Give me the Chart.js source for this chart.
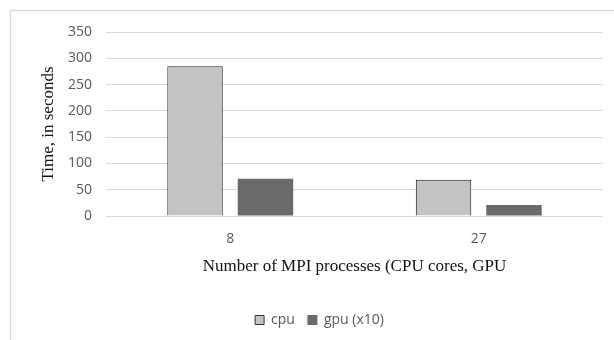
<!DOCTYPE html>
<html>
<head>
<meta charset="utf-8">
<script src="https://cdn.jsdelivr.net/npm/chart.js@4/dist/chart.umd.min.js"></script>
<style>
  html, body { margin: 0; padding: 0; background: #fff; }
  #wrap { width: 614px; height: 340px; position: relative; }
</style>
</head>
<body>
<div id="wrap"><canvas id="c" width="614" height="340"></canvas></div>
<script>
// Run times per MPI process count
const categories = ['8', '27'];
const cpuTimes = [285, 69];
const gpuTimesX10 = [71, 21];
const yTicks = [0, 50, 100, 150, 200, 250, 300, 350];

// Light frame along the top and left edge of the chart
const framePlugin = {
  id: 'frame',
  beforeDraw(chart) {
    const ctx = chart.ctx;
    ctx.save();
    ctx.strokeStyle = '#d9d9d9';
    ctx.lineWidth = 1.5;
    ctx.beginPath();
    ctx.moveTo(10.5, 340);
    ctx.lineTo(10.5, 10.5);
    ctx.lineTo(614, 10.5);
    ctx.stroke();
    ctx.restore();
  }
};

new Chart(document.getElementById('c'), {
  type: 'bar',
  data: {
    labels: categories,
    datasets: [
      {
        label: 'cpu',
        data: cpuTimes,
        backgroundColor: '#c3c3c3',
        borderColor: '#1a1a1a',
        borderWidth: 1,
        categoryPercentage: 0.567,
        barPercentage: 0.787
      },
      {
        label: 'gpu (x10)',
        data: gpuTimesX10,
        backgroundColor: '#6a6a6a',
        borderColor: '#6a6a6a',
        borderWidth: 0,
        categoryPercentage: 0.567,
        barPercentage: 0.787
      }
    ]
  },
  options: {
    responsive: false,
    animation: false,
    layout: { padding: { left: 36, right: 11, top: 32, bottom: 3 } },
    plugins: {
      tooltip: { enabled: false },
      legend: {
        position: 'bottom',
        labels: {
          boxWidth: 9,
          boxHeight: 9,
          padding: 13,
          color: '#595959',
          font: { family: 'Open Sans', size: 14 },
          generateLabels(chart) {
            return chart.data.datasets.map((ds, i) => ({
              text: ds.label,
              fillStyle: ds.backgroundColor,
              strokeStyle: i === 0 ? '#333' : ds.backgroundColor,
              lineWidth: 1,
              datasetIndex: i,
              fontColor: '#595959'
            }));
          }
        }
      }
    },
    scales: {
      x: {
        grid: { display: false },
        border: { display: false },
        ticks: { color: '#595959', font: { family: 'Open Sans', size: 14 }, padding: 7 },
        title: {
          display: true,
          text: 'Number of MPI processes (CPU cores, GPU',
          color: '#111',
          font: { family: 'Liberation Serif', size: 17 },
          padding: { top: 0, bottom: 23 }
        },
        afterFit(scale) { scale.height = 84; }
      },
      y: {
        min: 0,
        max: 350,
        afterBuildTicks(scale) { scale.ticks = yTicks.map(v => ({ value: v })); },
        grid: { color: '#d9d9d9', lineWidth: 1, drawTicks: false },
        border: { display: false },
        ticks: { color: '#595959', font: { family: 'Open Sans', size: 14 }, padding: 14 },
        title: {
          display: true,
          text: 'Time, in seconds',
          color: '#111',
          font: { family: 'Liberation Serif', size: 17 },
          padding: { top: 2, bottom: 0 }
        },
        afterFit(scale) { scale.width = 70; }
      }
    }
  },
  plugins: [framePlugin]
});
</script>
</body>
</html>
